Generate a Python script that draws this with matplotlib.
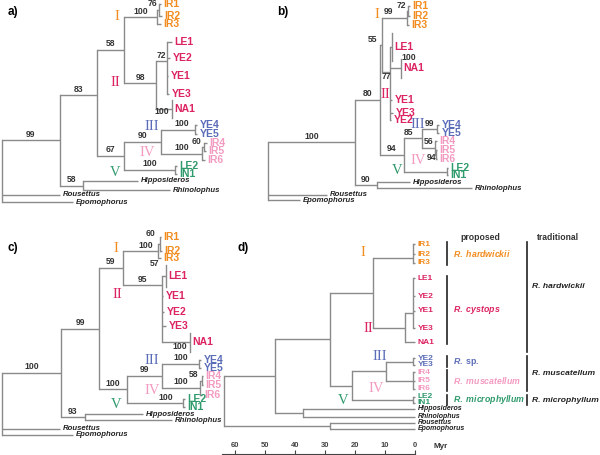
import matplotlib
matplotlib.use('Agg')
import matplotlib.pyplot as plt

plt.rcParams['font.family'] = ['Liberation Sans', 'DejaVu Sans']
plt.rcParams['mathtext.fontset'] = 'custom'
plt.rcParams['mathtext.it'] = 'Liberation Sans:italic:bold'
plt.rcParams['mathtext.rm'] = 'Liberation Sans:bold'

COLORS = {'I': '#f28c1e', 'II': '#dc2360', 'III': '#5b6cb8', 'IV': '#f39ac0',
          'V': '#2f9a6c', 'out': '#222222'}
LINE = '#8a8a8a'

# trees: id, parent, x (depth), y (None = middle of children), support, clade
# panels a-c are laid out in picture units, panel d in Myr
tree_a = [
    ('root', None, 2, None, '', ''),
    ('ing', 'root', 60, None, '99', ''),
    ('n83', 'ing', 97, 95, '83', ''),
    ('n58', 'n83', 124, None, '58', ''),
    ('cI', 'n58', 157, None, '100', ''),
    ('s76', 'cI', 159, None, '76', ''),
    ('IR1', 's76', 161, 4, '', 'I'),
    ('IR2', 's76', 162, 16, '', 'I'),
    ('IR3', 'cI', 161, 24, '', 'I'),
    ('cII', 'n58', 156, 83, '98', ''),
    ('s72', 'cII', 167, 61, '72', ''),
    ('LE1', 's72', 172, 42, '', 'II'),
    ('YE2', 's72', 170, 58, '', 'II'),
    ('YE1', 's72', 168, 76, '', 'II'),
    ('YE3', 's72', 169, 94, '', 'II'),
    ('NA1', 'cII', 172, 109, '100', 'II'),
    ('n67', 'n83', 124, None, '67', ''),
    ('n90', 'n67', 161, None, '90', ''),
    ('cIII', 'n90', 195, None, '100', ''),
    ('YE4', 'cIII', 197, 125, '', 'III'),
    ('YE5', 'cIII', 197, 134, '', 'III'),
    ('cIV', 'n90', 202, None, '100', ''),
    ('s60', 'cIV', 204, None, '60', ''),
    ('IR4', 's60', 207, 143, '', 'IV'),
    ('IR5', 's60', 206, 151, '', 'IV'),
    ('IR6', 'cIV', 205, 160, '', 'IV'),
    ('cV', 'n67', 175, None, '100', ''),
    ('LE2', 'cV', 177, 166, '', 'V'),
    ('IN1', 'cV', 177, 174, '', 'V'),
    ('hr', 'ing', 83, None, '58', ''),
    ('Hipposideros', 'hr', 138, 181, '', 'out'),
    ('Rhinolophus', 'hr', 170, 190, '', 'out'),
    ('Rousettus', 'root', 60, 195, '', 'out'),
    ('Epomophorus', 'root', 73, 202, '', 'out'),
]
bars_a = {'NA1': 9}
shift_a = {'s76': (-6, -1), 'NA1': (-2, 8), 's60': (-6, 0), 'cIII': (4, 0)}
numerals_a = [('I', 117, 16), ('II', 115, 83), ('III', 152, 126), ('IV', 147, 152), ('V', 115, 172)]

tree_b = [
    ('root', None, 268, None, '', ''),
    ('ing', 'root', 355, None, '100', ''),
    ('n80', 'ing', 380, None, '80', ''),
    ('n55', 'n80', 382, None, '55', ''),
    ('cI', 'n55', 407, None, '99', ''),
    ('s72', 'cI', 408, None, '72', ''),
    ('IR1', 's72', 410, 6, '', 'I'),
    ('IR2', 's72', 410, 16, '', 'I'),
    ('IR3', 'cI', 409, 25, '', 'I'),
    ('n77', 'n55', 390, 72, '77', ''),
    ('LE1', 'n77', 392, 47, '', 'II'),
    ('NA1', 'n77', 401, 68, '100', 'II'),
    ('YE1', 'n77', 392, 100, '', 'II'),
    ('YE3', 'n77', 393, 113, '', 'II'),
    ('YE2', 'n77', 391, 120, '', 'II'),
    ('n94', 'n80', 404, None, '94', ''),
    ('n85', 'n94', 422, None, '85', ''),
    ('cIII', 'n85', 437, None, '99', ''),
    ('YE4', 'cIII', 439, 125, '', 'III'),
    ('YE5', 'cIII', 439, 133, '', 'III'),
    ('cIV', 'n85', 435, None, '56', ''),
    ('IR4', 'cIV', 437, 141, '', 'IV'),
    ('s94', 'cIV', 436, None, '94', ''),
    ('IR5', 's94', 437, 150, '', 'IV'),
    ('IR6', 's94', 437, 159, '', 'IV'),
    ('cV', 'n94', 447, None, '', ''),
    ('LE2', 'cV', 448, 168, '', 'V'),
    ('IN1', 'cV', 448, 175, '', 'V'),
    ('hr', 'ing', 377, None, '90', ''),
    ('Hipposideros', 'hr', 410, 182, '', 'out'),
    ('Rhinolophus', 'hr', 472, 188, '', 'out'),
    ('Rousettus', 'root', 327, 195, '', 'out'),
    ('Epomophorus', 'root', 300, 200, '', 'out'),
]
bars_b = {'NA1': 9.5, 'LE1': 14}
shift_b = {'n55': (-8, 0), 'cI': (-6, 0), 's72': (-6, 0), 'n77': (0, 10.5),
           'NA1': (13, -4), 'n85': (-5, 0), 's94': (-4, 9)}
numerals_b = [('I', 377, 15), ('II', 385, 94), ('III', 418, 125), ('IV', 418, 161), ('V', 397, 171)]

tree_c = [
    ('root', None, 2, None, '', ''),
    ('ing', 'root', 61, None, '100', ''),
    ('n99', 'ing', 99, None, '99', ''),
    ('n59', 'n99', 123, None, '59', ''),
    ('cI', 'n59', 158, None, '100', ''),
    ('s60', 'cI', 160, None, '60', ''),
    ('IR1', 's60', 161, 237, '', 'I'),
    ('IR2', 's60', 162, 251, '', 'I'),
    ('IR3', 'cI', 161, 258, '', 'I'),
    ('cII', 'n59', 162, 285, '95', ''),
    ('LE1', 'cII', 166, 276, '57', 'II'),
    ('YE1', 'cII', 163, 296, '', 'II'),
    ('YE2', 'cII', 164, 312, '', 'II'),
    ('YE3', 'cII', 166, 326, '', 'II'),
    ('NA1', 'cII', 190, 342, '100', 'II'),
    ('n100', 'n99', 127, None, '100', ''),
    ('n99b', 'n100', 162, None, '99', ''),
    ('cIII', 'n99b', 199, None, '100', ''),
    ('YE4', 'cIII', 201, 360, '', 'III'),
    ('YE5', 'cIII', 201, 368, '', 'III'),
    ('cIV', 'n99b', 200, None, '100', ''),
    ('s58', 'cIV', 202, None, '58', ''),
    ('IR4', 's58', 203, 376, '', 'IV'),
    ('IR5', 's58', 203, 385, '', 'IV'),
    ('IR6', 'cIV', 202, 395, '', 'IV'),
    ('cV', 'n100', 183, None, '100', ''),
    ('LE2', 'cV', 185, 399, '', 'V'),
    ('IN1', 'cV', 185, 407, '', 'V'),
    ('hr', 'ing', 85, None, '93', ''),
    ('Hipposideros', 'hr', 143, 414, '', 'out'),
    ('Rhinolophus', 'hr', 172, 420, '', 'out'),
    ('Rousettus', 'root', 60, 429, '', 'out'),
    ('Epomophorus', 'root', 73, 435, '', 'out'),
]
bars_c = {'LE1': 11, 'NA1': 9.5}
shift_c = {'s60': (-8, -4), 'LE1': (-9, -6), 'NA1': (4, 10.5), 's58': (-7, 0),
           'cV': (11, 0), 'cI': (5, 0)}
numerals_c = [('I', 116, 248), ('II', 117, 294), ('III', 152, 360), ('IV', 152, 390), ('V', 116, 405)]

# panel d: dated tree, depth in Myr
tree_d = [
    ('root', None, 63.7, None, '', ''),
    ('nA', 'root', 46.7, None, '', ''),
    ('ing', 'nA', 28.3, None, '', ''),
    ('nI_II', 'ing', 14.0, None, '', ''),
    ('cI', 'nI_II', 0.7, 258, '', ''),
    ('IR1', 'cI', 0, 244, '', 'I'),
    ('IR2', 'cI', 0, 254, '', 'I'),
    ('IR3', 'cI', 0, 263, '', 'I'),
    ('cII', 'nI_II', 3.3, None, '', ''),
    ('sII', 'cII', 0.7, 313, '', ''),
    ('LE1', 'sII', 0, 278, '', 'II'),
    ('YE2', 'sII', 0, 296, '', 'II'),
    ('YE1', 'sII', 0, 311, '', 'II'),
    ('YE3', 'sII', 0, 328, '', 'II'),
    ('NA1', 'cII', 0, 342, '', 'II'),
    ('nIII_V', 'ing', 21.0, None, '', ''),
    ('nIII_IV', 'nIII_V', 9.7, None, '', ''),
    ('cIII', 'nIII_IV', 0.7, None, '', ''),
    ('YE2b', 'cIII', 0, 358, '', 'III'),
    ('YE3b', 'cIII', 0, 365, '', 'III'),
    ('cIV', 'nIII_IV', 0.7, None, '', ''),
    ('IR4', 'cIV', 0, 372, '', 'IV'),
    ('IR5', 'cIV', 0, 381, '', 'IV'),
    ('IR6', 'cIV', 0, 389, '', 'IV'),
    ('cV', 'nIII_V', 0.7, None, '', ''),
    ('LE2', 'cV', 0, 397, '', 'V'),
    ('IN1', 'cV', 0, 403, '', 'V'),
    ('hr', 'nA', 37.3, None, '', ''),
    ('Hipposideros', 'hr', 0, 409, '', 'out'),
    ('Rhinolophus', 'hr', 0, 417, '', 'out'),
    ('ro', 'root', 28.3, None, '', ''),
    ('Rousettus', 'ro', 0, 423, '', 'out'),
    ('Epomophorus', 'ro', 0, 429, '', 'out'),
]
names_d = {'YE2b': 'YE2', 'YE3b': 'YE3'}
numerals_d = [('I', 363, 252), ('II', 368, 328), ('III', 380, 357), ('IV', 376, 388), ('V', 343, 400)]
myr_ticks = [60, 50, 40, 30, 20, 10, 0]
myr_max = 64.3

proposed_names = [r'$\mathit{R.\ hardwickii}$', r'$\mathit{R.\ cystops}$', r'$\mathit{R.}$ sp.',
                  r'$\mathit{R.\ muscatellum}$', r'$\mathit{R.\ microphyllum}$']
proposed_clades = ['I', 'II', 'III', 'IV', 'V']
proposed_span = [('IR1', 'IR3'), ('LE1', 'NA1'), ('YE2b', 'YE3b'), ('IR4', 'IR6'), ('LE2', 'IN1')]
traditional_names = ['R. hardwickii', 'R. muscatellum', 'R. microphyllum']
traditional_span = [('IR1', 'NA1'), ('YE2b', 'IR6'), ('LE2', 'IN1')]


def myr_px(v):
    return 415 - 3.0 * v


def draw_tree(ax, rows, bars=None, shifts=None, names=None, scale=None,
              tip_size=7.5, out_size=5.6):
    bars = bars or {}
    shifts = shifts or {}
    names = names or {}
    px = scale or (lambda v: v)
    info = {r[0]: r for r in rows}
    kids = {}
    for r in rows:
        if r[1] is not None:
            kids.setdefault(r[1], []).append(r[0])
    ys = {}

    def node_y(n):
        if n not in ys:
            y = info[n][3]
            if y is None:
                cy = [node_y(c) for c in kids[n]]
                y = (min(cy) + max(cy)) / 2
            ys[n] = y
        return ys[n]

    for n, parent, x, _, sup, clade in rows:
        ny = node_y(n)
        nx = px(x)
        if parent is not None:
            x0 = px(info[parent][2])
            ax.plot([x0, nx], [ny, ny], color=LINE, lw=1.0, solid_capstyle='butt')
            if sup:
                dx, dy = shifts.get(n, (0, 0))
                ax.text((x0 + nx) / 2 + dx, ny - 1.5 + dy, sup, ha='center', va='bottom',
                        fontsize=6.2, weight='bold', color='#333333')
        if n in kids:
            cy = [node_y(c) for c in kids[n]] + [ny]
            ax.plot([nx, nx], [min(cy), max(cy)], color=LINE, lw=1.0)
        else:
            if n in bars:
                ax.plot([nx, nx], [ny - bars[n], ny + bars[n]], color=LINE, lw=1.0)
            label = names.get(n, n)
            if clade == 'out':
                ax.text(nx + 2.5, ny, label, style='italic', weight='bold', fontsize=out_size,
                        color='#222222', ha='left', va='center')
            else:
                ax.text(nx + 2.5, ny, label, weight='bold', fontsize=tip_size,
                        color=COLORS[clade], ha='left', va='center')
    return ys


def draw_numerals(ax, nums):
    for t, x, y in nums:
        ax.text(x, y, t, family='Liberation Serif', fontsize=10.5, color=COLORS[t],
                ha='center', va='center')


fig = plt.figure(figsize=(6, 4.55), dpi=100)
ax = fig.add_axes([0, 0, 1, 1])
ax.set_xlim(0, 600)
ax.set_ylim(455, 0)
ax.axis('off')

draw_tree(ax, tree_a, bars_a, shift_a)
draw_tree(ax, tree_b, bars_b, shift_b)
draw_tree(ax, tree_c, bars_c, shift_c)
ys_d = draw_tree(ax, tree_d, names=names_d, scale=myr_px, tip_size=6, out_size=5)
for nums in (numerals_a, numerals_b, numerals_c, numerals_d):
    draw_numerals(ax, nums)

for t, x, y in [('a)', 8, 12), ('b)', 277, 12), ('c)', 8, 248), ('d)', 237, 248)]:
    ax.text(x, y, t, fontsize=8.5, weight='bold', ha='left', va='center')

# species columns of panel d
ax.text(480, 237, 'proposed', fontsize=6.2, weight='bold', color='#333333', ha='center', va='center')
ax.text(558, 237, 'traditional', fontsize=6.2, weight='bold', color='#333333', ha='center', va='center')
for name, clade, (t0, t1) in zip(proposed_names, proposed_clades, proposed_span):
    y0, y1 = ys_d[t0] - 2, ys_d[t1] + 2
    ax.plot([447, 447], [y0, y1], color='#222222', lw=1.2)
    ax.text(453, (y0 + y1) / 2, name, fontsize=6.3, weight='bold', color=COLORS[clade],
            ha='left', va='center')
trad_dy = [-11, 0, 0]
for name, (t0, t1), dy in zip(traditional_names, traditional_span, trad_dy):
    y0, y1 = ys_d[t0] - 2, ys_d[t1] + 2
    if t1 == 'NA1':
        y1 += 8
    ax.plot([527, 527], [y0, y1], color='#222222', lw=1.2)
    ax.text(532, (y0 + y1) / 2 + dy, name, fontsize=6.1, weight='bold', style='italic',
            color='#222222', ha='left', va='center')

# time scale
sax = fig.add_axes([myr_px(myr_max) / 600, 1.5 / 455, (myr_px(0) - myr_px(myr_max)) / 600, 3 / 455])
sax.set_xlim(myr_max, 0)
sax.set_ylim(0, 1)
for s in ['left', 'right', 'top']:
    sax.spines[s].set_visible(False)
sax.spines['bottom'].set_color('#444444')
sax.spines['bottom'].set_linewidth(0.8)
sax.patch.set_visible(False)
sax.set_yticks([])
sax.set_xticks(myr_ticks)
sax.set_xticklabels([str(t) for t in myr_ticks], fontweight='bold')
sax.tick_params(axis='x', direction='in', length=3, width=0.8, colors='#444444',
                labelbottom=False, labeltop=True, top=False, pad=1, labelsize=5.5)
ax.text(433, 446, 'Myr', fontsize=5.8, weight='bold', color='#333333', ha='left', va='center')

fig.savefig('out.png', dpi=100)
